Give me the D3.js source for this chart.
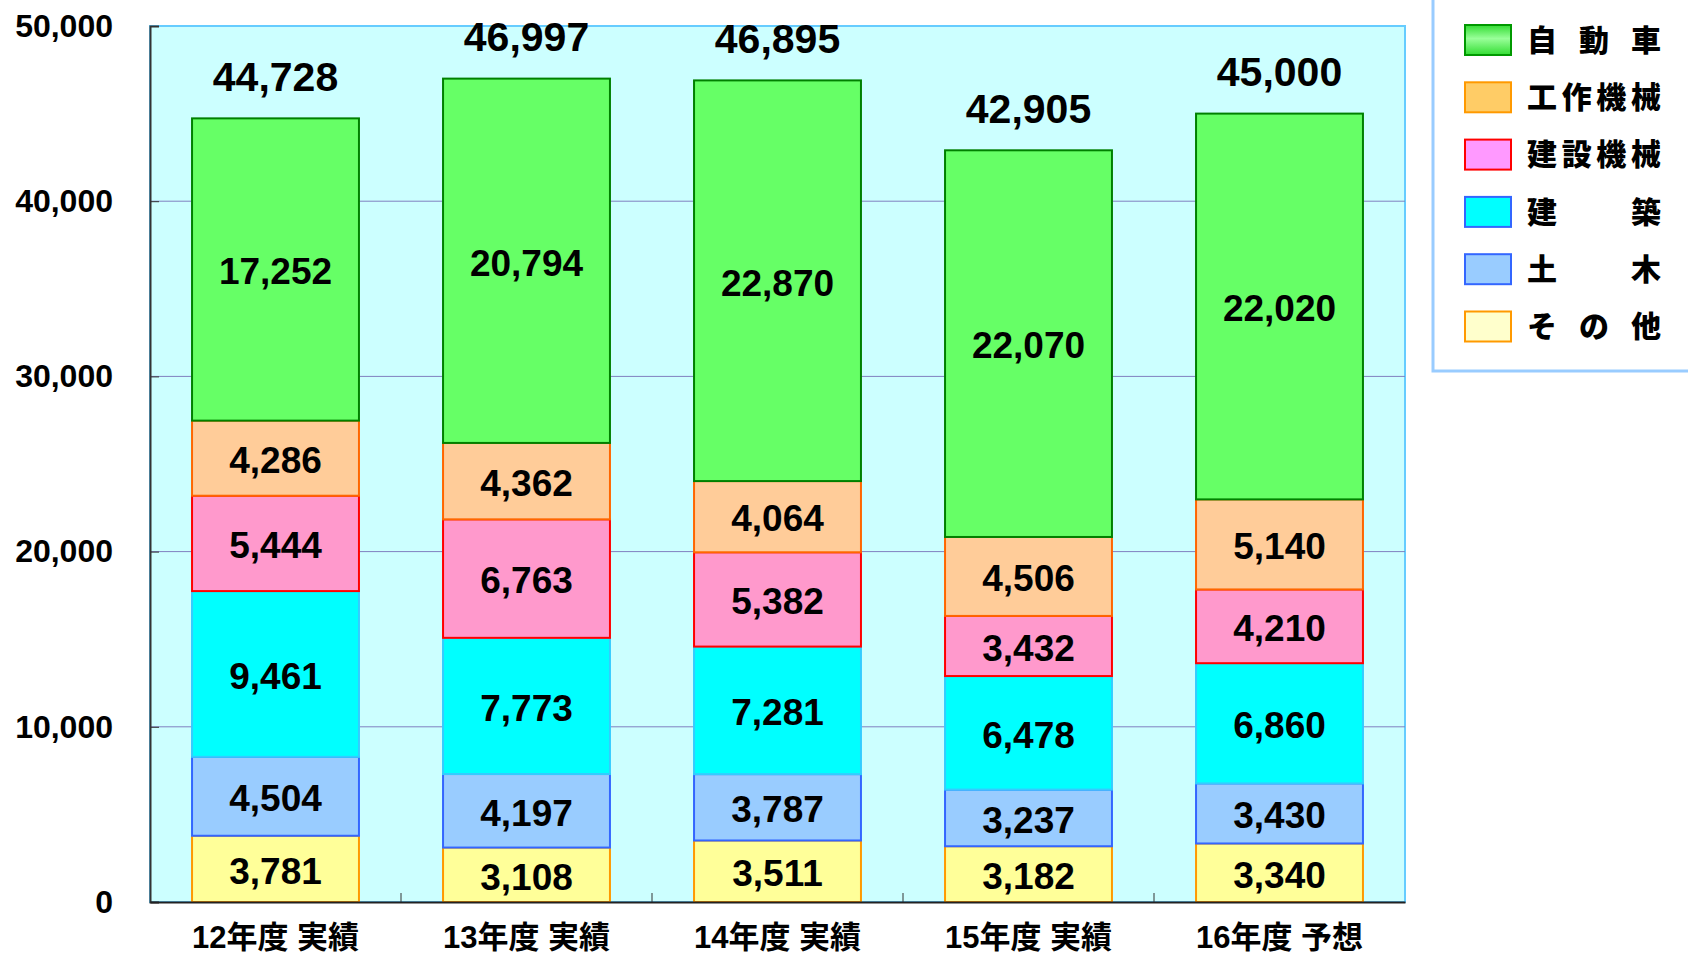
<!DOCTYPE html>
<html><head><meta charset="utf-8">
<script src="https://cdn.jsdelivr.net/npm/d3@7"></script>
<style>
html,body{margin:0;padding:0;background:#fff;}
svg{display:block;}
text{font-family:"Liberation Sans",Arial,"Noto Sans CJK JP",sans-serif;font-weight:bold;fill:#000;}
</style></head>
<body>
<script>
const categories = ["12年度 実績","13年度 実績","14年度 実績","15年度 実績","16年度 予想"];
const seriesNames = ["その他","土木","建築","建設機械","工作機械","自動車"];
const sonota   = [3781, 3108, 3511, 3182, 3340];
const doboku   = [4504, 4197, 3787, 3237, 3430];
const kenchiku = [9461, 7773, 7281, 6478, 6860];
const kensetsu = [5444, 6763, 5382, 3432, 4210];
const kousaku  = [4286, 4362, 4064, 4506, 5140];
const jidousha = [17252, 20794, 22870, 22070, 22020];
const totals   = [44728, 46997, 46895, 42905, 45000];
const yTicks   = [0, 10000, 20000, 30000, 40000, 50000];

const seriesValues = [sonota, doboku, kenchiku, kensetsu, kousaku, jidousha];
const fills   = ["#ffff99","#99ccff","#00ffff","#ff99cc","#ffcc99","#66ff66"];
const strokes = ["#ff9900","#3366ff","#33ccff","#ff0000","#ff6600","#008000"];
const legFills   = ["#ffffcc","#99ccff","#00ffff","#ff99ff","#ffcc66","url(#gGreen)"];
const legStrokes = ["#ff9900","#3366ff","#3366ff","#ff0000","#ff9900","#009900"];

const W = 1688, H = 959;
const svg = d3.select("body").append("svg").attr("width", W).attr("height", H);
const defs = svg.append("defs");
const gg = defs.append("linearGradient").attr("id","gGreen").attr("x1",0).attr("y1",0).attr("x2",0).attr("y2",1);
gg.append("stop").attr("offset","0%").attr("stop-color","#33dd33");
gg.append("stop").attr("offset","45%").attr("stop-color","#99ff99");
gg.append("stop").attr("offset","100%").attr("stop-color","#33dd33");

const L = 150, R = 1405, T = 26, B = 902;
const x = d3.scaleBand().domain(categories).range([L, R]).paddingInner(0.335).paddingOuter(0.1675);
const y = d3.scaleLinear().domain([0, 50000]).range([B, T]);

// plot background
svg.append("rect").attr("x", L).attr("y", T).attr("width", R - L).attr("height", B - T)
  .attr("fill", "#ccffff").attr("stroke", "#66ccff").attr("stroke-width", 2);

// gridlines
svg.append("g").selectAll("line").data(yTicks.filter(d => d > 0 && d < 50000)).join("line")
  .attr("x1", L).attr("x2", R).attr("y1", d => y(d)).attr("y2", d => y(d))
  .attr("stroke", "#8080c0").attr("stroke-width", 1);

// stacked data
const table = categories.map((c, i) => {
  const o = {cat: c};
  seriesNames.forEach((s, j) => o[s] = seriesValues[j][i]);
  return o;
});
const stack = d3.stack().keys(seriesNames)(table);

stack.forEach((layer, j) => {
  const g = svg.append("g");
  g.selectAll("rect").data(layer).join("rect")
    .attr("x", d => x(d.data.cat)).attr("width", x.bandwidth())
    .attr("y", d => y(d[1])).attr("height", d => y(d[0]) - y(d[1]))
    .attr("fill", fills[j]).attr("stroke", strokes[j]).attr("stroke-width", 2);
});
stack.forEach((layer, j) => {
  svg.append("g").selectAll("text").data(layer).join("text")
    .attr("x", d => x(d.data.cat) + x.bandwidth() / 2)
    .attr("y", d => (y(d[0]) + y(d[1])) / 2)
    .attr("dy", "0.4em").attr("text-anchor", "middle")
    .style("font-size", "37px")
    .text(d => d3.format(",")(d[1] - d[0]));
});

// totals
svg.append("g").selectAll("text").data(totals).join("text")
  .attr("x", (d, i) => x(categories[i]) + x.bandwidth() / 2)
  .attr("y", d => y(d) - 43).attr("dy", "0.38em").attr("text-anchor", "middle")
  .style("font-size", "41px").text(d => d3.format(",")(d));

// y axis
const yAxis = d3.axisLeft(y).tickValues(yTicks).tickSize(-9).tickPadding(37).tickFormat(d3.format(","));
const ya = svg.append("g").attr("transform", `translate(${L},0)`).call(yAxis);
ya.select(".domain").attr("stroke", "#333").attr("stroke-width", 2);
ya.selectAll(".tick line").attr("stroke", "#333");
ya.selectAll("text").style("font-size", "32px").attr("fill", "#000");

// x axis
const xAxis = d3.axisBottom(x).tickSize(0).tickPadding(20);
const xa = svg.append("g").attr("transform", `translate(0,${B})`).call(xAxis);
xa.select(".domain").attr("stroke", "#222").attr("stroke-width", 2);
xa.selectAll("text").style("font-size", "31px").attr("fill", "#000").attr("dy", "0.85em");
// category boundary ticks
const bounds = d3.range(1, categories.length).map(i => x(categories[i]) - x.step() * x.paddingInner() / 2);
svg.append("g").selectAll("line").data(bounds).join("line")
  .attr("x1", d => d).attr("x2", d => d).attr("y1", B).attr("y2", B - 9)
  .attr("stroke", "#333").attr("stroke-width", 1);

// legend
const lg = svg.append("g");
lg.append("rect").attr("x", 1433).attr("y", -4).attr("width", 270).attr("height", 375)
  .attr("fill", "#fff").attr("stroke", "#99ccff").attr("stroke-width", 3);
const legOrder = [5, 4, 3, 2, 1, 0];
const legTextW = 134, fs = 30;
legOrder.forEach((j, k) => {
  const cy = 40 + k * 57.3;
  lg.append("rect").attr("x", 1465).attr("y", cy - 15).attr("width", 46).attr("height", 30)
    .attr("fill", legFills[j]).attr("stroke", legStrokes[j]).attr("stroke-width", 2);
  const chars = Array.from(seriesNames[j]);
  const n = chars.length;
  chars.forEach((ch, ci) => {
    const px = 1527 + (n > 1 ? ci * (legTextW - fs) / (n - 1) : 0);
    lg.append("text").attr("x", px).attr("y", cy).attr("dy", "0.36em")
      .style("font-size", fs + "px").style("font-weight", "900").text(ch);
  });
});
</script>
</body></html>
